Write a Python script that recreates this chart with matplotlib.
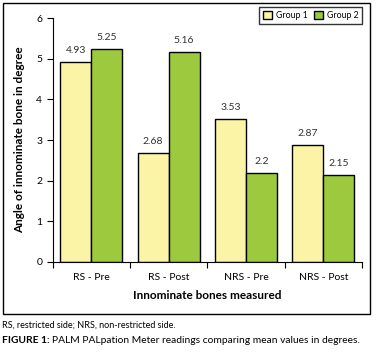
import numpy as np
import matplotlib.pyplot as plt
from matplotlib.patches import Rectangle

categories = ["RS - Pre", "RS - Post", "NRS - Pre", "NRS - Post"]
group1 = [4.93, 2.68, 3.53, 2.87]
group2 = [5.25, 5.16, 2.2, 2.15]
series_names = ["Group 1", "Group 2"]

plt.rcParams['font.family'] = ['Lato', 'DejaVu Sans']

fig = plt.figure(figsize=(3.76, 3.55), dpi=100)
ax = fig.add_axes([0.140, 0.262, 0.823, 0.687])

# outer frame around the chart
fig.patches.append(Rectangle((0.008, 0.115), 0.976, 0.877, transform=fig.transFigure,
                             fill=False, edgecolor='black', linewidth=1.0))

x = np.arange(len(categories))
w = 0.4
b1 = ax.bar(x - w / 2, group1, w, color='#FBF3A6', edgecolor='black', linewidth=1.0,
            label=series_names[0])
b2 = ax.bar(x + w / 2, group2, w, color='#9CC93E', edgecolor='black', linewidth=1.0,
            label=series_names[1])

for bars, vals in [(b1, group1), (b2, group2)]:
    for r, v in zip(bars, vals):
        ax.text(r.get_x() + r.get_width() / 2, v + 0.17, f"{v:g}", ha='center', va='bottom',
                fontsize=7.5, color='#333333')

ax.set_xlim(-0.5, len(categories) - 0.5)
ax.set_ylim(0, 6)
ax.set_yticks(range(7))
ax.set_xticks(np.arange(len(categories) + 1) - 0.5)
ax.set_xticklabels([])
ax.set_xticks(x, minor=True)
ax.set_xticklabels(categories, minor=True)
ax.tick_params(axis='x', which='minor', length=0, labelsize=7.5, pad=8)
ax.tick_params(axis='x', which='major', length=4, direction='out')
ax.tick_params(axis='y', labelsize=7.5, length=4, direction='out')

ax.spines['top'].set_visible(False)
ax.spines['right'].set_visible(False)

ax.set_xlabel("Innominate bones measured", fontsize=8.5, fontweight='bold', labelpad=6)
ax.set_ylabel("Angle of innominate bone in degree", fontsize=8.5, fontweight='bold', labelpad=8)

leg = ax.legend(loc='upper right', bbox_to_anchor=(1.015, 1.065), ncol=2, fontsize=6.3,
                frameon=True, fancybox=False, edgecolor='black', handlelength=1.1,
                handleheight=1.1, columnspacing=0.7, handletextpad=0.4, borderpad=0.45)
leg.get_frame().set_linewidth(1.0)

fig.text(0.005, 0.084, "RS, restricted side; NRS, non-restricted side.", fontsize=6.5,
         ha='left', va='center')
t1 = fig.text(0.005, 0.040, "FIGURE 1: ", fontsize=7.4, fontweight='bold', ha='left', va='center')
fig.canvas.draw()
bb = t1.get_window_extent().transformed(fig.transFigure.inverted())
fig.text(bb.x1, 0.040, "PALM PALpation Meter readings comparing mean values in degrees.",
         fontsize=7.4, ha='left', va='center')

fig.savefig("out.png", dpi=100)
